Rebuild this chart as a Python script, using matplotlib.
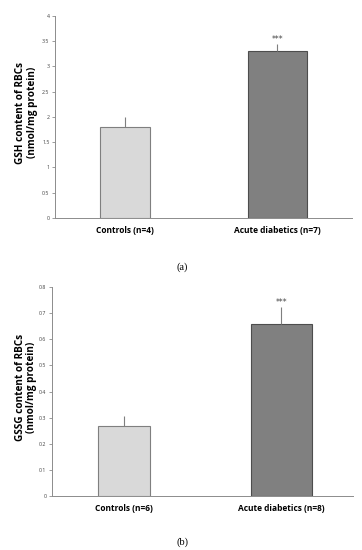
import matplotlib.pyplot as plt

# panel (a): GSH
gsh_groups = ["Controls (n=4)", "Acute diabetics (n=7)"]
gsh_means = [1.8, 3.3]
gsh_err = [0.2, 0.15]

# panel (b): GSSG
gssg_groups = ["Controls (n=6)", "Acute diabetics (n=8)"]
gssg_means = [0.27, 0.66]
gssg_err = [0.035, 0.065]

yticks_a = [0, 0.5, 1, 1.5, 2, 2.5, 3, 3.5, 4]
yticks_b = [0, 0.1, 0.2, 0.3, 0.4, 0.5, 0.6, 0.7, 0.8]

FACE = ["#d9d9d9", "#808080"]
EDGE = ["#7f7f7f", "#4d4d4d"]
AXC = "#8c8c8c"
SANS = ["Open Sans", "DejaVu Sans"]

fig = plt.figure(figsize=(3.62, 5.5), dpi=100)


def panel(rect, groups, means, err, yticks, ylabel, xlim, widths, lab_x, tag, tag_y):
    ax = fig.add_axes(rect)
    x = range(len(groups))
    ax.bar(x, means, width=widths, color=FACE, edgecolor=EDGE, linewidth=0.8, zorder=2)
    # upper-only error bars, no caps
    ax.errorbar(x, means, yerr=[[0] * len(err), err], fmt="none",
                ecolor="#7f7f7f", elinewidth=0.8, capsize=0, zorder=3)
    ax.text(1, means[1] + err[1], "***", ha="center", va="bottom",
            fontsize=5.5, color="#404040")
    ax.set_xlim(*xlim)
    ax.set_ylim(yticks[0], yticks[-1])
    ax.set_yticks(yticks)
    ax.set_yticklabels([f"{t:g}" for t in yticks], fontsize=3.8, color="#404040",
                       family=SANS)
    ax.set_xticks(list(x))
    ax.set_xticklabels(groups, fontsize=6, fontweight="bold", family=SANS)
    ax.tick_params(axis="x", length=0, pad=6)
    ax.tick_params(axis="y", length=2, width=0.6, color=AXC, pad=2)
    for s in ("top", "right"):
        ax.spines[s].set_visible(False)
    for s in ("left", "bottom"):
        ax.spines[s].set_color(AXC)
        ax.spines[s].set_linewidth(0.7)
    ax.set_ylabel(ylabel, fontsize=7.2, fontweight="bold", family=SANS,
                  linespacing=1.1)
    ax.yaxis.set_label_coords(lab_x, 0.52)
    fig.text(0.503, tag_y, tag, ha="center", va="center", fontsize=7.5,
             family=["Liberation Serif", "DejaVu Serif"])
    return ax


panel([0.152, 0.604, 0.820, 0.367], gsh_groups, gsh_means, gsh_err, yticks_a,
      "GSH content of RBCs\n(nmol/mg protein)", (-0.46, 1.49), [0.33, 0.39],
      -0.057, "(a)", 1 - 267 / 550)
panel([0.144, 0.098, 0.831, 0.380], gssg_groups, gssg_means, gssg_err, yticks_b,
      "GSSG content of RBCs\n(nmol/mg protein)", (-0.457, 1.455), [0.33, 0.39],
      -0.049, "(b)", 1 - 542 / 550)

fig.savefig("out.png", dpi=100, facecolor="white")
